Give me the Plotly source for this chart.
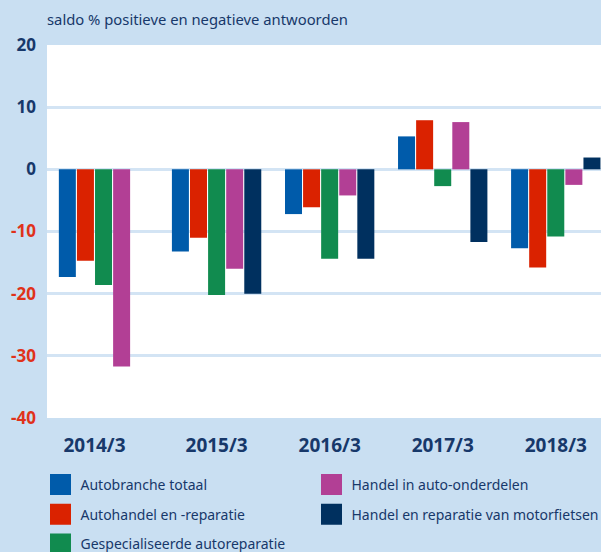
import plotly.graph_objects as go

periods = ["2014/3", "2015/3", "2016/3", "2017/3", "2018/3"]
series_names = [
    "Autobranche totaal",
    "Autohandel en -reparatie",
    "Gespecialiseerde autoreparatie",
    "Handel in auto-onderdelen",
    "Handel en reparatie van motorfietsen",
]
autobranche = [-17.3, -13.2, -7.2, 5.3, -12.7]
autohandel = [-14.7, -11.0, -6.1, 7.9, -15.8]
gespecialiseerd = [-18.6, -20.2, -14.4, -2.7, -10.8]
onderdelen = [-31.7, -16.0, -4.2, 7.6, -2.5]
motorfietsen = [None, -20.0, -14.4, -11.7, 1.9]

y_tickvals = [20, 10, 0, -10, -20, -30, -40]
y_ticktext = ["20", "10", "0", "-10", "-20", "-30", "-40"]

colors = ["#005BAA", "#DA2200", "#118B4F", "#B23F95", "#00305F"]
legend_ids = ["legend", "legend", "legend", "legend2", "legend2"]
values = [autobranche, autohandel, gespecialiseerd, onderdelen, motorfietsen]

NAVY = "#17386A"
RED = "#E0321A"

BARGAP = 0.2
n_series = len(values)
slot = (1 - BARGAP) / n_series

fig = go.Figure()
x_idx = list(range(len(periods)))
for name, vals, col in zip(series_names, values, colors):
    fig.add_trace(go.Bar(
        x=x_idx, y=vals, name=name, marker_color=col,
        marker_line_width=0, showlegend=False, legendgroup=name,
    ))
# legend entries with large square swatches
for name, col, leg in zip(series_names, colors, legend_ids):
    fig.add_trace(go.Scatter(
        x=[None], y=[None], mode="markers", name=name,
        marker=dict(symbol="square", size=16, color=col,
                    line=dict(width=5, color=col)),
        legend=leg, legendgroup=name, hoverinfo="skip",
    ))

# center each period label on the bars that are present in that period
tick_pos = []
for i in x_idx:
    present = [k for k in range(n_series) if values[k][i] is not None]
    centers = [-(1 - BARGAP) / 2 + slot * (k + 0.5) for k in present]
    tick_pos.append(i + sum(centers) / len(centers))

ticktext_colored = [
    f'<span style="color:{NAVY if v >= 0 else RED}">{t}</span>'
    for v, t in zip(y_tickvals, y_ticktext)
]

legend_common = dict(
    orientation="v", xref="container", yref="container",
    xanchor="left", yanchor="top", itemsizing="trace",
    font=dict(size=14.0, color=NAVY, family="Noto Sans"),
    bgcolor="rgba(0,0,0,0)", traceorder="grouped", tracegroupgap=8.5,
)

fig.update_layout(
    width=601, height=552,
    paper_bgcolor="#C9DFF2",
    plot_bgcolor="#FFFFFF",
    margin=dict(l=47, r=0, t=45, b=134, autoexpand=False),
    barmode="group",
    bargap=BARGAP,
    bargroupgap=0.06,
    font=dict(family="Noto Sans", color=NAVY),
    title=dict(
        text="saldo % positieve en negatieve antwoorden",
        x=47 / 601, xanchor="left", xref="container",
        y=1 - 20 / 552, yanchor="middle", yref="container",
        font=dict(size=14.8, color=NAVY, family="Noto Sans"),
    ),
    xaxis=dict(
        tickmode="array", tickvals=tick_pos, ticktext=periods,
        range=[-0.5, 4.4], showgrid=False, zeroline=False,
        ticks="", ticklabelstandoff=14, automargin=False,
        tickfont=dict(size=19, color=NAVY, family="Open Sans", weight=700),
    ),
    yaxis=dict(
        tickmode="array", tickvals=y_tickvals, ticktext=ticktext_colored,
        range=[-40, 20], showgrid=True, gridcolor="#D3E4F4", gridwidth=3,
        zeroline=True, zerolinecolor="#D3E4F4", zerolinewidth=3,
        ticks="", ticklabelstandoff=10, automargin=False,
        tickfont=dict(size=17, color=NAVY, family="Open Sans", weight=700),
    ),
    legend=dict(x=40.5 / 601, y=1 - 469 / 552, **legend_common),
    legend2=dict(x=311.5 / 601, y=1 - 469 / 552, **legend_common),
    showlegend=True,
    hovermode=False,
)

fig.write_html("out.html", post_script="document.body.style.margin='0';",
               config={"displayModeBar": False})
